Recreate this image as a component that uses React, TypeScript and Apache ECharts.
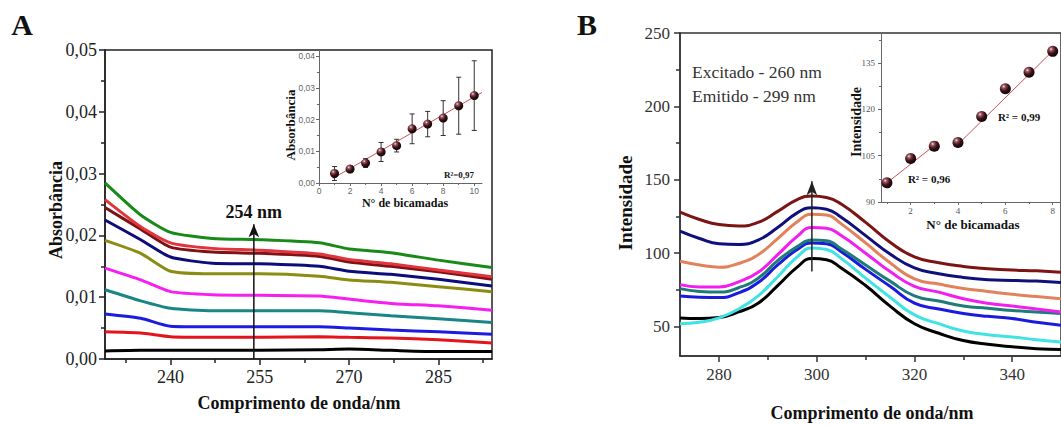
import React, { useEffect, useRef } from "react";
import * as echarts from "echarts";

// ---------- Panel A: absorbance spectra ----------
const waveA = [229, 235, 240, 247, 255, 265, 270, 277, 285, 294];
const absGreen = [0.0285, 0.0233, 0.0205, 0.0195, 0.0193, 0.0188, 0.0178, 0.0172, 0.016, 0.0148];
const absRed2 = [0.0258, 0.0214, 0.0188, 0.0179, 0.0176, 0.017, 0.0161, 0.0154, 0.0144, 0.0133];
const absMaroon = [0.0245, 0.021, 0.0181, 0.0173, 0.0171, 0.0166, 0.0157, 0.015, 0.0141, 0.0129];
const absNavy = [0.0225, 0.0193, 0.0165, 0.0155, 0.0154, 0.015, 0.0142, 0.0137, 0.0129, 0.0118];
const absOlive = [0.0192, 0.0171, 0.0142, 0.0138, 0.0138, 0.0134, 0.0128, 0.0124, 0.0117, 0.0109];
const absMagenta = [0.0147, 0.0128, 0.0109, 0.0104, 0.0103, 0.0102, 0.0097, 0.009, 0.0086, 0.0079];
const absTeal = [0.0112, 0.0094, 0.0082, 0.0078, 0.0078, 0.0078, 0.0075, 0.007, 0.0065, 0.0059];
const absBlue = [0.0073, 0.0066, 0.0053, 0.0052, 0.0052, 0.0052, 0.005, 0.0047, 0.0044, 0.004];
const absRed1 = [0.0044, 0.0042, 0.0036, 0.0035, 0.0035, 0.0036, 0.0035, 0.0034, 0.0031, 0.0026];
const absBlack = [0.0013, 0.0014, 0.0014, 0.0014, 0.0014, 0.0015, 0.0016, 0.0014, 0.0012, 0.0012];

const xTicksA = [240, 255, 270, 285];
const xMinorA = [232.5, 247.5, 262.5, 277.5, 292.5];
const yTicksA = [0, 0.01, 0.02, 0.03, 0.04, 0.05];
const yMinorA = [0.005, 0.015, 0.025, 0.035, 0.045];
const arrowA = [254, 0, 0.0218];

// Inset A
const layersA = [1, 2, 3, 4, 5, 6, 7, 8, 9, 10];
const insetAbs = [0.003, 0.0044, 0.0063, 0.0098, 0.0118, 0.0171, 0.0186, 0.0205, 0.0244, 0.0276];
const insetAbsErr = [0.0022, 0.0011, 0.0014, 0.003, 0.002, 0.0047, 0.004, 0.0055, 0.009, 0.011];
const fitAX = [0.9, 10.5];
const fitAY = [0.0015, 0.0286];
const insetAXTicks = [0, 2, 4, 6, 8, 10];
const insetAXMinor = [1, 3, 5, 7, 9];
const insetAYTicks = [0, 0.01, 0.02, 0.03, 0.04];
const insetAYMinor = [0.005, 0.015, 0.025, 0.035];

// ---------- Panel B: emission spectra ----------
const waveB = [272, 276, 280, 284, 288, 292, 296, 299, 302, 305, 310, 315, 320, 325, 330, 335, 340, 345, 350];
const intMaroon = [128, 123, 119.5, 118.5, 121, 128.5, 136.5, 139, 138, 133.5, 121, 107.5, 97.5, 93.5, 91, 89.5, 88.5, 88, 87];
const intNavy = [115, 110, 106.5, 106, 109, 117.5, 127.5, 131, 130, 124.5, 112, 99.5, 90, 86, 83.5, 82, 81.5, 81, 80];
const intSalmon = [94.5, 92, 90.5, 93, 99, 110, 121.5, 126.5, 126, 120, 107, 93.5, 82.5, 79, 76, 74, 72, 70.5, 69];
const intMagenta = [78.6, 77, 77, 80.5, 87, 99, 111.5, 117.5, 117, 112, 100, 87.5, 77.5, 73.5, 69, 66, 64, 62, 60];
const intTeal = [75.9, 74, 73.6, 76.5, 83, 95, 104.5, 109, 108.5, 103, 92, 81, 71, 67.5, 64, 62.5, 61, 60, 59];
const intBlue = [70.9, 70, 69.8, 73, 80, 92, 102.5, 107, 106.5, 101, 89, 77.5, 66, 62, 59, 57, 55.5, 53, 51];
const intCyan = [52, 53, 56, 62, 71, 84, 97.5, 103.5, 102.5, 96.5, 83, 70, 58, 52, 47, 44.5, 43, 41, 39.5];
const intBlack = [55.9, 55.5, 56.2, 60, 66, 78, 90.5, 96.4, 95.5, 90, 78, 64, 52, 45.5, 40.5, 38, 36.3, 35, 34.4];

const xTicksB = [280, 300, 320, 340];
const xMinorB = [290, 310, 330];
const yTicksB = [50, 100, 150, 200, 250];
const yMinorB = [75, 125, 175, 225];
const arrowB = [299, 87.5, 149];

// Inset B
const layersB = [1, 2, 3, 4, 5, 6, 7, 8];
const insetInt = [96.2, 104.1, 108.1, 109.3, 117.7, 126.7, 132, 138.8];
const fitB1X = [1, 3];
const fitB1Y = [96.2, 108.3];
const fitB2X = [3.95, 8.05];
const fitB2Y = [108.3, 139.3];
const insetBXTicks = [2, 4, 6, 8];
const insetBXMinor = [1, 3, 5, 7];
const insetBYTicks = [90, 105, 120, 135];
const insetBYMinor = [97.5, 112.5, 127.5, 142.5];

const serif = "'Liberation Serif', 'Times New Roman', serif";
const sans = "'Liberation Sans', Arial, sans-serif";

const zip = (xs: number[], ys: number[]) => xs.map((x, i) => [x, ys[i]]);
const comma2 = (v: number) => v.toFixed(2).replace(".", ",");

function sphere() {
  return new echarts.graphic.RadialGradient(0.35, 0.3, 0.75, [
    { offset: 0, color: "#f6e8ea" },
    { offset: 0.2, color: "#9a5560" },
    { offset: 0.55, color: "#3a1218" },
    { offset: 1, color: "#0a0204" },
  ]);
}

function axis(
  grid: number,
  min: number,
  max: number,
  ticks: number[],
  opts: {
    pos: string;
    lineColor: string;
    lineWidth: number;
    tickLen: number;
    labels?: boolean;
    fmt?: (v: number) => string;
    font?: string;
    fontSize?: number;
    labelColor?: string;
    margin?: number;
    showLine?: boolean;
  }
) {
  return {
    gridIndex: grid,
    type: "value",
    min,
    max,
    position: opts.pos,
    axisLine: {
      show: opts.showLine !== false,
      onZero: false,
      lineStyle: { color: opts.lineColor, width: opts.lineWidth },
    },
    axisTick: {
      show: true,
      customValues: ticks,
      length: opts.tickLen,
      lineStyle: { color: opts.lineColor, width: opts.lineWidth },
    },
    axisLabel: opts.labels
      ? {
          show: true,
          customValues: ticks,
          formatter: opts.fmt || ((v: number) => String(v)),
          fontFamily: opts.font,
          fontSize: opts.fontSize,
          color: opts.labelColor,
          margin: opts.margin,
        }
      : { show: false },
    splitLine: { show: false },
    minorTick: { show: false },
  };
}

function lineSeries(x: number, y: number, xs: number[], ys: number[], color: string, smooth: number, width = 3) {
  return {
    type: "line",
    xAxisIndex: x,
    yAxisIndex: y,
    data: zip(xs, ys),
    showSymbol: false,
    symbol: "none",
    smooth,
    lineStyle: { color, width },
    itemStyle: { color },
    z: 3,
  };
}

function buildOption() {
  const xAxis = [
    axis(0, 229, 294, xTicksA, { pos: "bottom", lineColor: "#222", lineWidth: 1.5, tickLen: 6, labels: true, font: serif, fontSize: 18, labelColor: "#222", margin: 9 }),
    axis(0, 229, 294, xMinorA, { pos: "bottom", lineColor: "#222", lineWidth: 1.5, tickLen: 4, showLine: false }),
    axis(1, 0, 10.5, insetAXTicks, { pos: "bottom", lineColor: "#666", lineWidth: 1, tickLen: 3, labels: true, font: sans, fontSize: 8.5, labelColor: "#666", margin: 3 }),
    axis(1, 0, 10.5, insetAXMinor, { pos: "bottom", lineColor: "#666", lineWidth: 1, tickLen: 2, showLine: false }),
    axis(2, 272, 350, xTicksB, { pos: "bottom", lineColor: "#333", lineWidth: 1.5, tickLen: 6, labels: true, font: serif, fontSize: 17, labelColor: "#333", margin: 10 }),
    axis(2, 272, 350, xMinorB, { pos: "bottom", lineColor: "#333", lineWidth: 1.5, tickLen: 4, showLine: false }),
    axis(3, 0.75, 8.35, insetBXTicks, { pos: "bottom", lineColor: "#666", lineWidth: 1, tickLen: 3, labels: true, font: serif, fontSize: 9, labelColor: "#555", margin: 4 }),
    axis(3, 0.75, 8.35, insetBXMinor, { pos: "bottom", lineColor: "#666", lineWidth: 1, tickLen: 2, showLine: false }),
  ];
  const yAxis = [
    axis(0, 0, 0.05, yTicksA, { pos: "left", lineColor: "#222", lineWidth: 1.5, tickLen: 6, labels: true, fmt: comma2, font: serif, fontSize: 18, labelColor: "#222", margin: 8 }),
    axis(0, 0, 0.05, yMinorA, { pos: "left", lineColor: "#222", lineWidth: 1.5, tickLen: 4, showLine: false }),
    axis(1, 0, 0.042, insetAYTicks, { pos: "left", lineColor: "#666", lineWidth: 1, tickLen: 3, labels: true, fmt: comma2, font: sans, fontSize: 8.5, labelColor: "#666", margin: 4 }),
    axis(1, 0, 0.042, insetAYMinor, { pos: "left", lineColor: "#666", lineWidth: 1, tickLen: 2, showLine: false }),
    axis(2, 30, 250, yTicksB, { pos: "left", lineColor: "#333", lineWidth: 1.5, tickLen: 6, labels: true, font: serif, fontSize: 17, labelColor: "#333", margin: 10 }),
    axis(2, 30, 250, yMinorB, { pos: "left", lineColor: "#333", lineWidth: 1.5, tickLen: 4, showLine: false }),
    axis(3, 90, 144.75, insetBYTicks, { pos: "left", lineColor: "#666", lineWidth: 1, tickLen: 3, labels: true, font: serif, fontSize: 9, labelColor: "#555", margin: 6 }),
    axis(3, 90, 144.75, insetBYMinor, { pos: "left", lineColor: "#666", lineWidth: 1, tickLen: 2, showLine: false }),
  ];

  const grid = [
    { left: 105, top: 50, width: 387, height: 309, show: true, borderColor: "#222", borderWidth: 1.5, backgroundColor: "transparent", outerBoundsMode: "none", containLabel: false },
    { left: 319, top: 50, width: 163, height: 133, show: false, outerBoundsMode: "none", containLabel: false },
    { left: 680, top: 33, width: 381, height: 323, show: true, borderColor: "#333", borderWidth: 1.5, backgroundColor: "transparent", outerBoundsMode: "none", containLabel: false },
    { left: 881, top: 33, width: 180, height: 169, show: false, outerBoundsMode: "none", containLabel: false },
  ];

  const seriesA = [
    lineSeries(0, 0, waveA, absBlack, "#000000", 0.2),
    lineSeries(0, 0, waveA, absRed1, "#e3141c", 0.2),
    lineSeries(0, 0, waveA, absBlue, "#1c1ce0", 0.2),
    lineSeries(0, 0, waveA, absTeal, "#1a8585", 0.2),
    lineSeries(0, 0, waveA, absMagenta, "#f51ff0", 0.2),
    lineSeries(0, 0, waveA, absOlive, "#8c8c12", 0.2),
    lineSeries(0, 0, waveA, absNavy, "#0c0c7a", 0.2),
    lineSeries(0, 0, waveA, absMaroon, "#7e1216", 0.2),
    lineSeries(0, 0, waveA, absRed2, "#e2343c", 0.2),
    lineSeries(0, 0, waveA, absGreen, "#178a17", 0.2),
  ];

  const arrowSeriesA = {
    type: "line",
    xAxisIndex: 0,
    yAxisIndex: 0,
    symbol: "none",
    data: [
      { value: [arrowA[0], arrowA[1]], symbol: "none" },
      { value: [arrowA[0], arrowA[2]], symbol: "arrow", symbolSize: [8, 13] },
    ],
    lineStyle: { color: "#111", width: 1.5 },
    itemStyle: { color: "#111" },
    z: 6,
    markPoint: {
      symbol: "rect",
      symbolSize: 1,
      itemStyle: { color: "rgba(0,0,0,0)" },
      label: { show: true, position: "inside", formatter: "254 nm", fontFamily: serif, fontWeight: "bold", fontSize: 18, color: "#111" },
      data: [{ coord: [arrowA[0], 0.0238] }],
    },
  };

  const errA = {
    type: "custom",
    xAxisIndex: 2,
    yAxisIndex: 2,
    data: layersA.map((x, i) => [x, insetAbs[i], insetAbsErr[i]]),
    renderItem: (params: any, api: any) => {
      const x = api.value(0);
      const y = api.value(1);
      const e = api.value(2);
      const top = api.coord([x, y + e]);
      const bot = api.coord([x, y - e]);
      const st = { stroke: "#333", lineWidth: 1 };
      return {
        type: "group",
        children: [
          { type: "line", shape: { x1: top[0], y1: top[1], x2: bot[0], y2: bot[1] }, style: st },
          { type: "line", shape: { x1: top[0] - 2.5, y1: top[1], x2: top[0] + 2.5, y2: top[1] }, style: st },
          { type: "line", shape: { x1: bot[0] - 2.5, y1: bot[1], x2: bot[0] + 2.5, y2: bot[1] }, style: st },
        ],
      };
    },
    z: 4,
  };

  const fitA = lineSeries(2, 2, fitAX, fitAY, "#d0505a", 0, 1);
  const pointsA = {
    type: "scatter",
    xAxisIndex: 2,
    yAxisIndex: 2,
    data: zip(layersA, insetAbs),
    symbol: "circle",
    symbolSize: 9,
    itemStyle: { color: sphere(), opacity: 1 },
    z: 5,
  };

  const seriesB = [
    lineSeries(4, 4, waveB, intBlack, "#000000", 0.5),
    lineSeries(4, 4, waveB, intCyan, "#3fe3e3", 0.5),
    lineSeries(4, 4, waveB, intBlue, "#1b1bdc", 0.5),
    lineSeries(4, 4, waveB, intTeal, "#1e7c78", 0.5),
    lineSeries(4, 4, waveB, intMagenta, "#f21ef0", 0.5),
    lineSeries(4, 4, waveB, intSalmon, "#e2825c", 0.5),
    lineSeries(4, 4, waveB, intNavy, "#10107a", 0.5),
    lineSeries(4, 4, waveB, intMaroon, "#7c1414", 0.5),
  ];

  const arrowSeriesB = {
    type: "line",
    xAxisIndex: 4,
    yAxisIndex: 4,
    symbol: "none",
    data: [
      { value: [arrowB[0], arrowB[1]], symbol: "none" },
      { value: [arrowB[0], arrowB[2]], symbol: "arrow", symbolSize: [8, 14] },
    ],
    lineStyle: { color: "#222", width: 1.5 },
    itemStyle: { color: "#222" },
    z: 6,
  };

  const fitB1 = lineSeries(6, 6, fitB1X, fitB1Y, "#c8505a", 0, 1);
  const fitB2 = lineSeries(6, 6, fitB2X, fitB2Y, "#c8505a", 0, 1);
  const pointsB = {
    type: "scatter",
    xAxisIndex: 6,
    yAxisIndex: 6,
    data: zip(layersB, insetInt),
    symbol: "circle",
    symbolSize: 11,
    itemStyle: { color: sphere(), opacity: 1 },
    z: 5,
  };

  const txt = (text: string, x: number, y: number, size: number, bold: boolean, rot = 0, align = "center", color = "#111") => ({
    type: "text",
    x,
    y,
    rotation: rot,
    style: {
      text,
      font: `${bold ? "bold " : ""}${size}px ${serif}`,
      fill: color,
      textAlign: align,
      textVerticalAlign: "middle",
    },
    z: 10,
  });

  const graphic = [
    txt("A", 22, 24, 30, true),
    txt("B", 587, 24, 30, true),
    txt("Absorbância", 56, 210, 18, true, Math.PI / 2),
    txt("Comprimento de onda/nm", 299, 403, 18, true),
    txt("Absorbância", 290, 125, 13, true, Math.PI / 2),
    txt("N° de bicamadas", 405, 203, 12, true),
    txt("R²=0,97", 459, 175, 9, true),
    txt("Intensidade", 625, 203, 19, true, Math.PI / 2),
    txt("Comprimento de onda/nm", 872, 413, 18, true),
    txt("Intensidade", 856, 122, 14, true, Math.PI / 2),
    txt("N° de bicamadas", 973, 224, 13, true),
    txt("R² = 0,96", 929, 179, 11, true),
    txt("R² = 0,99", 1019, 117, 11, true),
    txt("Excitado - 260 nm", 692, 72, 17.5, false, 0, "left", "#333"),
    txt("Emitido - 299 nm", 692, 96, 17.5, false, 0, "left", "#333"),
  ];

  return {
    animation: false,
    backgroundColor: "#ffffff",
    grid,
    xAxis,
    yAxis,
    graphic,
    series: [
      ...seriesA,
      arrowSeriesA,
      errA,
      fitA,
      pointsA,
      ...seriesB,
      arrowSeriesB,
      fitB1,
      fitB2,
      pointsB,
    ],
  };
}

export default function App() {
  const ref = useRef<HTMLDivElement>(null);
  useEffect(() => {
    if (!ref.current) return;
    const chart = echarts.init(ref.current, null, { renderer: "svg" });
    chart.setOption(buildOption() as any);
    return () => chart.dispose();
  }, []);
  return (
    <div
      ref={ref}
      style={{ position: "absolute", left: 0, top: 0, width: 1061, height: 425, background: "#fff" }}
    />
  );
}
